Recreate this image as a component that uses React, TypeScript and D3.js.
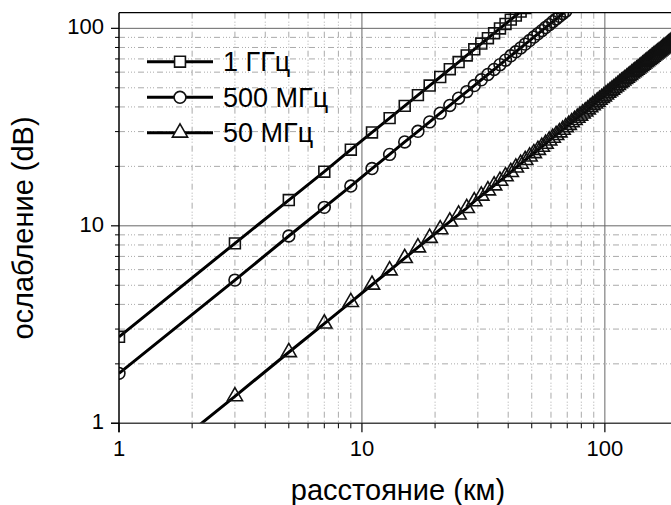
import React, { useRef, useEffect } from 'react';
import * as d3 from 'd3';

// расстояние (км) — точки с маркерами через 2 км
const distances = [
  1, 3, 5, 7, 9, 11, 13, 15, 17, 19, 21, 23, 25, 27, 29, 31, 33, 35, 37, 39,
  41, 43, 45, 47, 49, 51, 53, 55, 57, 59, 61, 63, 65, 67, 69, 71, 73, 75, 77, 79,
  81, 83, 85, 87, 89, 91, 93, 95, 97, 99, 101, 103, 105, 107, 109, 111, 113, 115, 117, 119,
  121, 123, 125, 127, 129, 131, 133, 135, 137, 139, 141, 143, 145, 147, 149, 151, 153, 155, 157, 159,
  161, 163, 165, 167, 169, 171, 173, 175, 177, 179, 181, 183, 185, 187, 189, 191, 193, 195, 197, 199,
];

// ослабление (dB)
const loss1GHz = [
  2.74, 8.15, 13.5, 18.8, 24.3, 29.7, 35.1, 40.5, 45.9, 51.3, 56.7, 62.1,
  67.5, 72.9, 78.3, 83.7, 89.1, 94.5, 99.9, 105.3, 110.7, 116.1, 121.5, 126.9,
];

const loss500MHz = [
  1.79, 5.31, 8.88, 12.4, 15.9, 19.5, 23.0, 26.6, 30.1, 33.6, 37.2, 40.7,
  44.3, 47.8, 51.3, 54.9, 58.4, 61.9, 65.5, 69.0, 72.6, 76.1, 79.6, 83.2,
  86.7, 90.3, 93.8, 97.3, 100.9, 104.4, 108.0, 111.5, 115.0, 118.6, 122.1,
];

const loss50MHz = [
  0.46, 1.37, 2.29, 3.2, 4.11, 5.03, 5.94, 6.86, 7.77, 8.68, 9.6, 10.5, 11.4, 12.3, 13.3, 14.2, 15.1, 16.0, 16.9, 17.8,
  18.7, 19.7, 20.6, 21.5, 22.4, 23.3, 24.2, 25.1, 26.0, 27.0, 27.9, 28.8, 29.7, 30.6, 31.5, 32.4, 33.4, 34.3, 35.2, 36.1,
  37.0, 37.9, 38.8, 39.8, 40.7, 41.6, 42.5, 43.4, 44.3, 45.2, 46.2, 47.1, 48.0, 48.9, 49.8, 50.7, 51.6, 52.6, 53.5, 54.4,
  55.3, 56.2, 57.1, 58.0, 59.0, 59.9, 60.8, 61.7, 62.6, 63.5, 64.4, 65.4, 66.3, 67.2, 68.1, 69.0, 69.9, 70.8, 71.7, 72.7,
  73.6, 74.5, 75.4, 76.3, 77.2, 78.1, 79.1, 80.0, 80.9, 81.8, 82.7, 83.6, 84.5, 85.5, 86.4, 87.3, 88.2, 89.1, 90.0, 90.9,
];

const seriesNames = ['1 ГГц', '500 МГц', '50 МГц'];
const seriesMarkers = ['square', 'circle', 'triangle'];
const xTickValues = [1, 10, 100];
const yTickValues = [1, 10, 100];
const xMinorValues = [2, 3, 4, 5, 6, 7, 8, 9, 20, 30, 40, 50, 60, 70, 80, 90, 200];
const yMinorValues = [2, 3, 4, 5, 6, 7, 8, 9, 20, 30, 40, 50, 60, 70, 80, 90];

const WIDTH = 671;
const HEIGHT = 505;
const FONT = '"Liberation Sans", Arial, sans-serif';

type Pt = { d: number; v: number };

export default function App() {
  const svgRef = useRef<SVGSVGElement | null>(null);

  useEffect(() => {
    const svg = d3.select(svgRef.current);
    svg.selectAll('*').remove();

    const left = 119;
    const right = 678;
    const top = 12.7;
    const bottom = 423.3;

    const x = d3.scaleLog().domain([1, 200]).range([left, right]);
    const y = d3.scaleLog().domain([1, 120]).range([bottom, top]);

    svg
      .append('defs')
      .append('clipPath')
      .attr('id', 'plot-clip')
      .append('rect')
      .attr('x', left)
      .attr('y', top)
      .attr('width', right - left)
      .attr('height', bottom - top);

    // сетка
    const grid = svg.append('g');
    const dash = '6,3,1,2,1,2,1,3';
    grid
      .selectAll('.vminor')
      .data(xMinorValues)
      .join('line')
      .attr('x1', (d) => x(d))
      .attr('x2', (d) => x(d))
      .attr('y1', top)
      .attr('y2', bottom)
      .attr('stroke', '#aaa')
      .attr('stroke-dasharray', dash);
    grid
      .selectAll('.hminor')
      .data(yMinorValues)
      .join('line')
      .attr('x1', left)
      .attr('x2', right)
      .attr('y1', (d) => y(d))
      .attr('y2', (d) => y(d))
      .attr('stroke', '#aaa')
      .attr('stroke-dasharray', dash);
    grid
      .selectAll('.vmajor')
      .data([10, 100])
      .join('line')
      .attr('x1', (d) => x(d))
      .attr('x2', (d) => x(d))
      .attr('y1', top)
      .attr('y2', bottom)
      .attr('stroke', '#666');
    grid
      .selectAll('.hmajor')
      .data([10, 100])
      .join('line')
      .attr('x1', left)
      .attr('x2', right)
      .attr('y1', (d) => y(d))
      .attr('y2', (d) => y(d))
      .attr('stroke', '#666');

    const seriesValues = [loss1GHz, loss500MHz, loss50MHz];
    const series: Pt[][] = seriesValues.map((vals) =>
      vals.map((v, i) => ({ d: distances[i], v }))
    );

    const line = d3
      .line<Pt>()
      .x((p) => x(p.d))
      .y((p) => y(p.v));

    const symbolFor = (kind: string) => {
      if (kind === 'square') return d3.symbol().type(d3.symbolSquare).size(118);
      if (kind === 'circle') return d3.symbol().type(d3.symbolCircle).size(110);
      return d3.symbol().type(d3.symbolTriangle).size(100);
    };

    const plot = svg.append('g').attr('clip-path', 'url(#plot-clip)');

    series.forEach((pts, si) => {
      plot
        .append('path')
        .datum(pts)
        .attr('fill', 'none')
        .attr('stroke', '#000')
        .attr('stroke-width', 3)
        .attr('d', line);

      plot
        .append('g')
        .selectAll('path')
        .data(pts)
        .join('path')
        .attr('transform', (p) => `translate(${x(p.d)},${y(p.v)})`)
        .attr('d', symbolFor(seriesMarkers[si])())
        .attr('fill', 'none')
        .attr('stroke', '#111')
        .attr('stroke-width', 1.6);
    });

    // оси
    const axes = svg.append('g');
    axes
      .append('line')
      .attr('x1', left)
      .attr('x2', right)
      .attr('y1', top)
      .attr('y2', top)
      .attr('stroke', '#000')
      .attr('stroke-width', 1.2);
    axes
      .append('line')
      .attr('x1', left - 8)
      .attr('x2', right)
      .attr('y1', bottom)
      .attr('y2', bottom)
      .attr('stroke', '#444')
      .attr('stroke-width', 1.5);
    axes
      .append('line')
      .attr('x1', left)
      .attr('x2', left)
      .attr('y1', top)
      .attr('y2', bottom + 9)
      .attr('stroke', '#000')
      .attr('stroke-width', 1.5);

    axes
      .selectAll('.xt')
      .data(xTickValues)
      .join('line')
      .attr('x1', (d) => x(d))
      .attr('x2', (d) => x(d))
      .attr('y1', bottom)
      .attr('y2', bottom + 9)
      .attr('stroke', '#000')
      .attr('stroke-width', 1.2);
    axes
      .selectAll('.xm')
      .data(xMinorValues)
      .join('line')
      .attr('x1', (d) => x(d))
      .attr('x2', (d) => x(d))
      .attr('y1', bottom)
      .attr('y2', bottom + 5)
      .attr('stroke', '#000');
    axes
      .selectAll('.yt')
      .data(yTickValues)
      .join('line')
      .attr('x1', left - 8)
      .attr('x2', left)
      .attr('y1', (d) => y(d))
      .attr('y2', (d) => y(d))
      .attr('stroke', '#000')
      .attr('stroke-width', 1.2);
    axes
      .selectAll('.ym')
      .data(yMinorValues)
      .join('line')
      .attr('x1', left - 4)
      .attr('x2', left)
      .attr('y1', (d) => y(d))
      .attr('y2', (d) => y(d))
      .attr('stroke', '#000');

    axes
      .selectAll('.xl')
      .data(xTickValues)
      .join('text')
      .attr('x', (d) => x(d))
      .attr('y', 456)
      .attr('text-anchor', 'middle')
      .attr('font-family', FONT)
      .attr('font-size', 22)
      .attr('fill', '#000')
      .text((d) => String(d));
    axes
      .selectAll('.yl')
      .data(yTickValues)
      .join('text')
      .attr('x', 104)
      .attr('y', (d) => y(d) + 6)
      .attr('text-anchor', 'end')
      .attr('font-family', FONT)
      .attr('font-size', 22)
      .attr('fill', '#000')
      .text((d) => String(d));

    svg
      .append('text')
      .attr('x', 398)
      .attr('y', 500)
      .attr('text-anchor', 'middle')
      .attr('font-family', FONT)
      .attr('font-size', 29)
      .attr('fill', '#000')
      .text('расстояние (км)');
    svg
      .append('text')
      .attr('transform', 'translate(33,228) rotate(-90)')
      .attr('text-anchor', 'middle')
      .attr('font-family', FONT)
      .attr('font-size', 29)
      .attr('fill', '#000')
      .text('ослабление (dB)');

    // легенда
    const legend = svg.append('g');
    const rowY = [61.7, 97.3, 132.7];
    seriesNames.forEach((name, i) => {
      const g = legend.append('g').attr('transform', `translate(0,${rowY[i]})`);
      g.append('line')
        .attr('x1', 147)
        .attr('x2', 213)
        .attr('y1', 0)
        .attr('y2', 0)
        .attr('stroke', '#000')
        .attr('stroke-width', 3);
      g.append('path')
        .attr('transform', 'translate(180,0)')
        .attr('d', symbolFor(seriesMarkers[i])())
        .attr('fill', '#fff')
        .attr('stroke', '#111')
        .attr('stroke-width', 1.6);
      g.append('text')
        .attr('x', 223)
        .attr('y', 9.5)
        .attr('font-family', FONT)
        .attr('font-size', 27)
        .attr('fill', '#000')
        .text(name);
    });
  }, []);

  return (
    <svg
      ref={svgRef}
      width={WIDTH}
      height={HEIGHT}
      style={{ position: 'absolute', left: 0, top: 0, background: '#fff' }}
      xmlns="http://www.w3.org/2000/svg"
    />
  );
}
